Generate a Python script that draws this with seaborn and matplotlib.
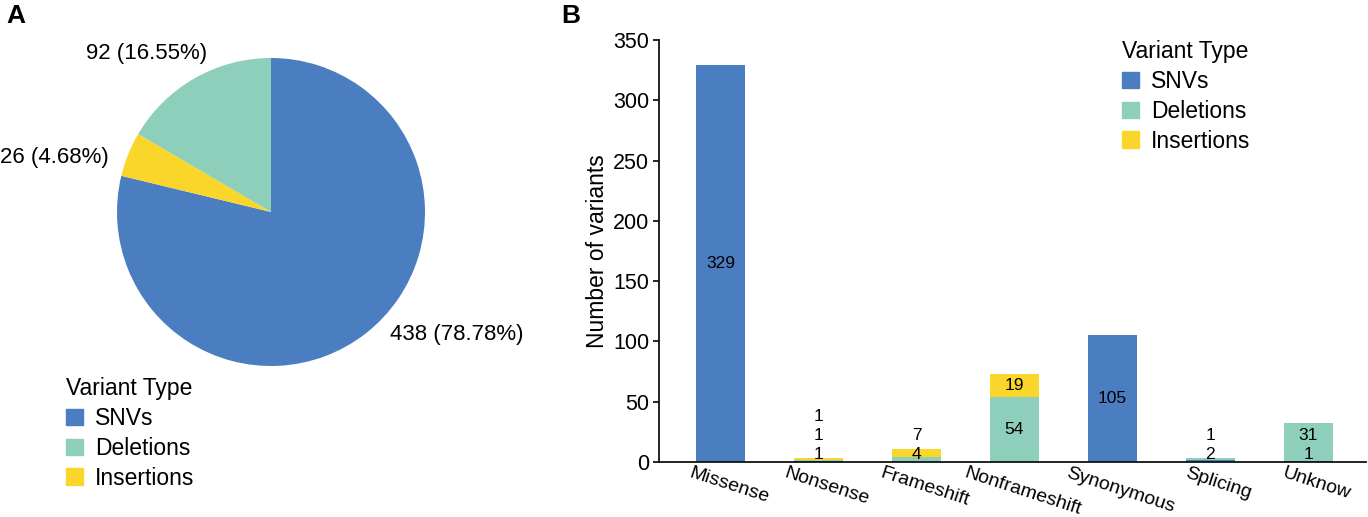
import matplotlib
matplotlib.use("Agg")
import matplotlib.pyplot as plt
import matplotlib.patches as mpatches
import matplotlib.transforms as mtransforms
import seaborn as sns
import pandas as pd
import numpy as np

# variant type totals (panel A)
variant_types = ["SNVs", "Deletions", "Insertions"]
type_counts = [438, 92, 26]

# per-category counts (panel B)
categories = ["Missense", "Nonsense", "Frameshift", "Nonframeshift",
              "Synonymous", "Splicing", "Unknow"]
snvs = [329, 1, 0, 0, 105, 2, 1]
deletions = [0, 1, 4, 54, 0, 1, 31]
insertions = [0, 1, 7, 19, 0, 0, 0]

colors = {"SNVs": "#4B7EC0", "Deletions": "#8DCFBA", "Insertions": "#FAD52A"}

sns.set_theme(style="white")
plt.rcParams["font.family"] = ["Liberation Sans", "DejaVu Sans"]
plt.rcParams["text.color"] = "black"
plt.rcParams["axes.labelcolor"] = "black"
plt.rcParams["xtick.color"] = "black"
plt.rcParams["ytick.color"] = "black"

W, H = 1368, 517
fig = plt.figure(figsize=(W / 100, H / 100), dpi=100)

# ---------- A: pie ----------
axA = fig.add_axes([117 / W, 1 - 366 / H, 308 / W, 308 / H])
total = sum(type_counts)
pie_order = [0, 2, 1]  # SNVs, Insertions, Deletions clockwise from top
pie_vals = [type_counts[i] for i in pie_order]
pie_txt = [f"{type_counts[i]} ({type_counts[i] / total * 100:.2f}%)" for i in pie_order]
pie_cols = [colors[variant_types[i]] for i in pie_order]
wedges, texts = axA.pie(pie_vals, labels=pie_txt, colors=pie_cols, startangle=90,
                        counterclock=False, labeldistance=1.1,
                        wedgeprops={"linewidth": 0},
                        textprops={"fontsize": 16, "color": "black"})
# nudge labels round the rim a little
shift = [6, 3.4, -8]
for w, t, s in zip(wedges, texts, shift):
    ang = np.deg2rad((w.theta1 + w.theta2) / 2 + s)
    x, y = 1.11 * np.cos(ang), 1.11 * np.sin(ang)
    t.set_position((x, y))
    t.set_ha("left" if x > 0 else "right")
    t.set_va("center")
axA.set_xlim(-1, 1)
axA.set_ylim(-1, 1)

handles = [mpatches.Patch(color=colors[t], label=t) for t in variant_types]
leg_kw = dict(title="Variant Type", loc="upper left", frameon=False, fontsize=16.5,
              title_fontsize=16.5, alignment="left", handlelength=0.72,
              handleheight=0.72, handletextpad=0.55, labelspacing=0.3,
              borderaxespad=0, borderpad=0)
fig.legend(handles=handles, bbox_to_anchor=(66 / W, 1 - 377 / H), **leg_kw)

# ---------- B: stacked bars ----------
axB = fig.add_axes([659 / W, 1 - 462 / H, 707 / W, 422 / H])
df = pd.DataFrame({"category": categories, "SNVs": snvs,
                   "Deletions": deletions, "Insertions": insertions})
bottom = [0] * len(categories)
for t in variant_types:
    sns.barplot(data=df, x="category", y=t, order=categories, color=colors[t],
                width=0.5, bottom=bottom, ax=axB, saturation=1, linewidth=0)
    bottom = [b + v for b, v in zip(bottom, df[t])]

# value labels, pushed up when segments are too thin
for i in range(len(categories)):
    base = 0
    prev = None
    for t in variant_types:
        v = df[t][i]
        if v == 0:
            continue
        y = base + v / 2
        if prev is None:
            y = max(y, 6)
        else:
            y = max(y, prev + 16)
        axB.text(i, y, str(v), ha="center", va="center", fontsize=12.5, color="black")
        prev = y
        base += v

axB.set_ylim(0, 350)
axB.set_xlim(-0.63, 6.59)
axB.set_yticks(range(0, 351, 50))
axB.set_xlabel("")
axB.set_ylabel("Number of variants", fontsize=16.5, labelpad=3)
axB.tick_params(axis="y", labelsize=15.5, length=4, width=1.2, left=True, pad=3)
axB.tick_params(axis="x", labelsize=14, length=0, pad=2)
nudge = mtransforms.ScaledTranslation(0.08, 0, fig.dpi_scale_trans)
for lab in axB.get_xticklabels():
    lab.set_rotation(-18)
    lab.set_ha("center")
    lab.set_transform(lab.get_transform() + nudge)
sns.despine(ax=axB)
for s in ["left", "bottom"]:
    axB.spines[s].set_color("#111111")
    axB.spines[s].set_linewidth(1.3)

fig.legend(handles=handles, bbox_to_anchor=(1122 / W, 1 - 40 / H), **leg_kw)

fig.text(6 / W, 1 - 4 / H, "A", fontsize=19, fontweight="bold", va="top")
fig.text(561 / W, 1 - 4 / H, "B", fontsize=19, fontweight="bold", va="top")

fig.savefig("out.png", dpi=100)
